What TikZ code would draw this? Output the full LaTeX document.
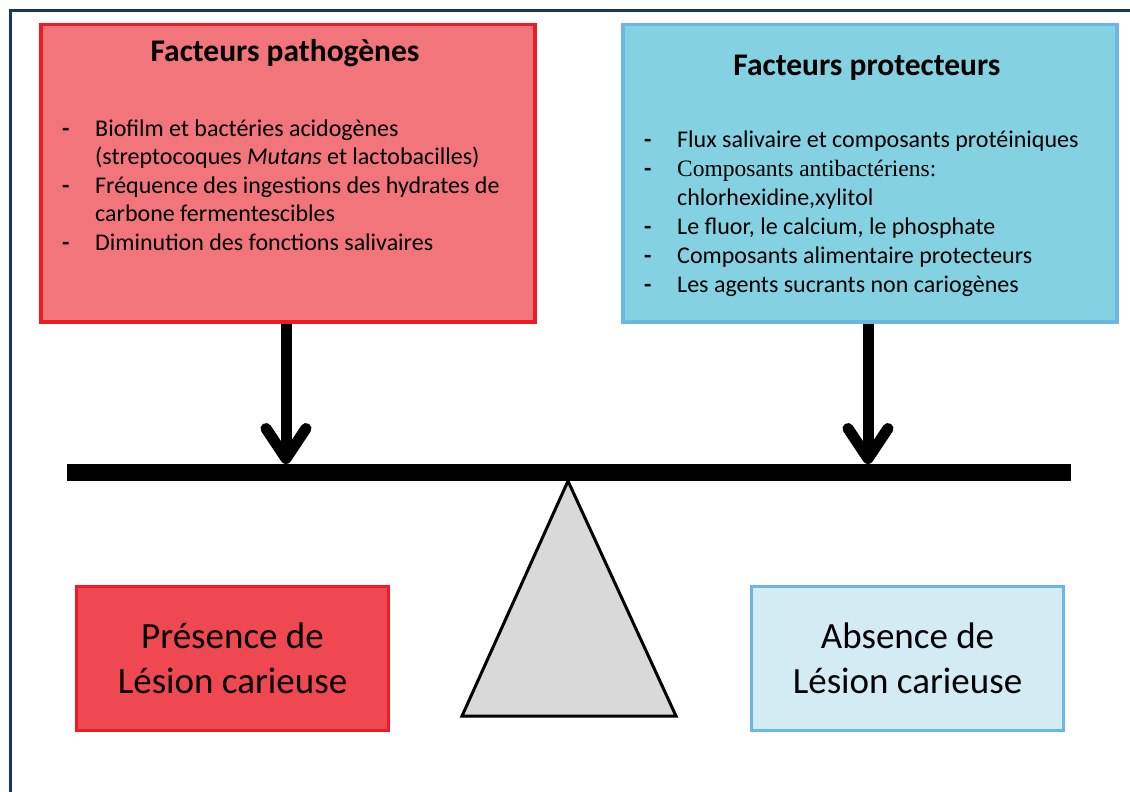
\documentclass[tikz,border=0pt]{standalone}
\usepackage{fontspec}
\setmainfont{Carlito}
\newfontfamily\serifalt{Liberation Serif}
\usetikzlibrary{arrows.meta}
\definecolor{navy}{HTML}{17375E}
\definecolor{redline}{HTML}{ED1C24}
\definecolor{redfill}{HTML}{F1757A}
\definecolor{redfilltwo}{HTML}{EF4850}
\definecolor{blueline}{HTML}{6CB6E6}
\definecolor{bluefill}{HTML}{84D2E1}
\definecolor{bluefilltwo}{HTML}{D3ECF3}
\definecolor{trifill}{HTML}{D9D9D9}
\tikzset{
  redbox/.style={draw=redline,fill=redfill,line width=3.5pt},
  bluebox/.style={draw=blueline,fill=bluefill,line width=3.5pt},
  title/.style={font=\fontsize{31.5}{36}\selectfont\bfseries},
  item/.style={anchor=mid west,inner sep=0pt,font=\fontsize{24}{28}\selectfont},
  dashmark/.style={anchor=mid west,inner sep=0pt,font=\fontsize{24}{28}\selectfont\bfseries},
  bigtext/.style={align=center,font=\fontsize{37}{45}\selectfont},
  pusharrow/.style={line width=11pt,-{Straight Barb[round,length=30pt,width=40pt]}},
}
\begin{document}
\begin{tikzpicture}[x=1pt,y=-1pt]
\useasboundingbox (0,0) rectangle (1130,792);
\fill[white] (0,0) rectangle (1130,792);
% frame
\draw[navy,line width=3pt] (10,792) -- (10,11) -- (1130,11);
% top boxes
\node[redbox,minimum width=494pt,minimum height=297pt,anchor=north west,inner sep=0pt] (path) at (39,23) {};
\node[bluebox,minimum width=494pt,minimum height=297pt,anchor=north west,inner sep=0pt] (prot) at (621,23) {};
\node[title] (ptitle) at (285,53) {Facteurs pathogènes};
\node[title] (btitle) at (867,68) {Facteurs protecteurs};
% left items
\node[dashmark] (d1) at (62,134) {-};
\node[item] (l1) at (95,134) {Biofilm et bactéries acidogènes};
\node[item] (l2) at (95,162) {(streptocoques \textit{Mutans} et lactobacilles)};
\node[dashmark] (d2) at (62,191) {-};
\node[item] (l3) at (95,191) {Fréquence des ingestions des hydrates de};
\node[item] (l4) at (95,219) {carbone fermentescibles};
\node[dashmark] (d3) at (62,248) {-};
\node[item] (l5) at (95,248) {Diminution des fonctions salivaires};
% right items
\node[dashmark] (e1) at (644,145) {-};
\node[item] (r1) at (677,145) {Flux salivaire et composants protéiniques};
\node[dashmark] (e2) at (644,174) {-};
\node[item] (r2) at (677,174) {\serifalt\fontsize{23.5}{28}\selectfont Composants antibactériens:};
\node[item] (r3) at (677,203) {chlorhexidine,xylitol};
\node[dashmark] (e3) at (644,232) {-};
\node[item] (r4) at (677,232) {Le fluor, le calcium, le phosphate};
\node[dashmark] (e4) at (644,261) {-};
\node[item] (r5) at (677,261) {Composants alimentaire protecteurs};
\node[dashmark] (e5) at (644,290) {-};
\node[item] (r6) at (677,290) {Les agents sucrants non cariogènes};
% beam
\coordinate (beamL) at (67,472);
\coordinate (beamR) at (1071,472);
\draw[line width=17pt] (beamL) -- (beamR);
\coordinate (hitL) at (286,464);
\coordinate (hitR) at (868,464);
\draw[pusharrow] (path.south -| hitL) -- (hitL);
\draw[pusharrow] (prot.south -| hitR) -- (hitR);
% fulcrum
\draw[fill=trifill,line width=3pt,line join=miter] (568,481) -- (676,716) -- (462,716) -- cycle;
% bottom boxes
\node[draw=redline,fill=redfilltwo,line width=3pt,minimum width=312pt,minimum height=144pt,anchor=north west,inner sep=0pt] (pres) at (75,585) {};
\node[bigtext] (prestext) at (pres.center) {Présence de\\Lésion carieuse};
\node[draw=blueline,fill=bluefilltwo,line width=3pt,minimum width=312pt,minimum height=144pt,anchor=north west,inner sep=0pt] (abs) at (750,585) {};
\node[bigtext] (abstext) at (abs.center) {Absence de\\Lésion carieuse};
\end{tikzpicture}
\end{document}
